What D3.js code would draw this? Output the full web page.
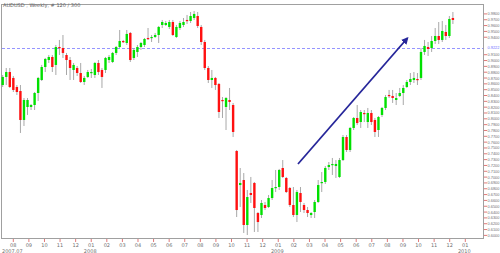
<!DOCTYPE html>
<html>
<head>
<meta charset="utf-8">
<script src="https://cdn.jsdelivr.net/npm/d3@7"></script>
<style>
  body { margin: 0; background: #fff; }
  svg { display: block; }
  text { font-family: "DejaVu Sans", sans-serif; }
  .price-label { font-family: "Liberation Sans", Arial, sans-serif; }
</style>
</head>
<body>
<svg id="chart" width="500" height="253"></svg>
<script>
// 图表数据
const title = 'AUDUSD , Weekly, # 120 / 300';

const open = [
  0.8580, 0.8718, 0.8803, 0.8701, 0.8546, 0.8477, 0.7980, 0.8203, 0.8203, 0.8237,
  0.8443, 0.8666, 0.8889, 0.9009, 0.9061, 0.8924, 0.9232, 0.9215, 0.9095, 0.9009,
  0.8838, 0.8872, 0.8786, 0.8632, 0.8718, 0.8786, 0.8752, 0.8958, 0.8838, 0.8838,
  0.9009, 0.8975, 0.9130, 0.9232, 0.9335, 0.9301, 0.9473, 0.9044, 0.9147, 0.9232,
  0.9267, 0.9387, 0.9387, 0.9404, 0.9438, 0.9610, 0.9610, 0.9576, 0.9661, 0.9404,
  0.9558, 0.9610, 0.9696, 0.9679, 0.9730, 0.9764, 0.9576, 0.9318, 0.8872, 0.8666,
  0.8701, 0.8598, 0.8323, 0.8203, 0.8323, 0.8237, 0.7448, 0.6864, 0.6950, 0.6178,
  0.6727, 0.6899, 0.6384, 0.6350, 0.6521, 0.6487, 0.6641, 0.6813, 0.6830, 0.7156,
  0.6985, 0.6813, 0.6521, 0.6350, 0.6727, 0.6521, 0.6435, 0.6350, 0.6401, 0.6573,
  0.6899, 0.6916, 0.7173, 0.7208, 0.7190, 0.7002, 0.7293, 0.7688, 0.7465, 0.7843,
  0.8014, 0.7945, 0.8100, 0.7945, 0.8100, 0.7980, 0.7808, 0.8066, 0.8186, 0.8409,
  0.8392, 0.8323, 0.8392, 0.8443, 0.8546, 0.8632, 0.8666, 0.8683, 0.8701, 0.9147,
  0.9232, 0.9215, 0.9335, 0.9421, 0.9353, 0.9490, 0.9421, 0.9730
];
const high = [
  0.8752, 0.8872, 0.8872, 0.8735, 0.8580, 0.8580, 0.8357, 0.8357, 0.8254, 0.8460,
  0.8718, 0.8924, 0.9044, 0.9095, 0.9095, 0.9267, 0.9353, 0.9438, 0.9130, 0.9061,
  0.8958, 0.8906, 0.8958, 0.8735, 0.8838, 0.8855, 0.8975, 0.9009, 0.8872, 0.9061,
  0.9095, 0.9147, 0.9250, 0.9524, 0.9353, 0.9524, 0.9490, 0.9215, 0.9267, 0.9318,
  0.9387, 0.9558, 0.9438, 0.9473, 0.9593, 0.9696, 0.9679, 0.9696, 0.9696, 0.9610,
  0.9679, 0.9730, 0.9782, 0.9833, 0.9850, 0.9833, 0.9610, 0.9353, 0.8906, 0.8838,
  0.8718, 0.8615, 0.8374, 0.8374, 0.8529, 0.8272, 0.7465, 0.7156, 0.7070, 0.6779,
  0.7002, 0.6916, 0.6401, 0.6607, 0.6573, 0.6693, 0.6950, 0.7122, 0.7140, 0.7293,
  0.7002, 0.6830, 0.6830, 0.6779, 0.6830, 0.6556, 0.6487, 0.6401, 0.6607, 0.6950,
  0.7087, 0.7190, 0.7259, 0.7328, 0.7293, 0.7328, 0.7722, 0.7722, 0.7860, 0.8031,
  0.8237, 0.8151, 0.8151, 0.8186, 0.8151, 0.8014, 0.8048, 0.8203, 0.8409, 0.8495,
  0.8495, 0.8443, 0.8529, 0.8580, 0.8666, 0.8786, 0.8803, 0.8786, 0.9215, 0.9353,
  0.9318, 0.9421, 0.9558, 0.9661, 0.9679, 0.9610, 0.9764, 0.9833
];
const low = [
  0.8546, 0.8580, 0.8529, 0.8460, 0.8409, 0.7757, 0.7877, 0.8066, 0.8151, 0.8151,
  0.8306, 0.8649, 0.8803, 0.8958, 0.8803, 0.8752, 0.9095, 0.9044, 0.8752, 0.8666,
  0.8666, 0.8735, 0.8615, 0.8580, 0.8701, 0.8701, 0.8701, 0.8752, 0.8529, 0.8786,
  0.8958, 0.8958, 0.9095, 0.9215, 0.9301, 0.9267, 0.8975, 0.9009, 0.9061, 0.9181,
  0.9232, 0.9353, 0.9318, 0.9387, 0.9301, 0.9558, 0.9593, 0.9541, 0.9421, 0.9387,
  0.9524, 0.9576, 0.9627, 0.9644, 0.9696, 0.9558, 0.9267, 0.8838, 0.8615, 0.8529,
  0.8495, 0.8014, 0.8014, 0.7808, 0.8151, 0.7688, 0.6315, 0.6487, 0.6041, 0.6006,
  0.6556, 0.6058, 0.6058, 0.6298, 0.6435, 0.6470, 0.6607, 0.6744, 0.6779, 0.6985,
  0.6727, 0.6487, 0.6315, 0.6229, 0.6401, 0.6384, 0.6315, 0.6298, 0.6298, 0.6556,
  0.6744, 0.6882, 0.7122, 0.7036, 0.6985, 0.6985, 0.7276, 0.7431, 0.7431, 0.7808,
  0.7894, 0.7843, 0.7945, 0.7843, 0.7894, 0.7688, 0.7688, 0.8031, 0.8151, 0.8357,
  0.8272, 0.8237, 0.8374, 0.8237, 0.8529, 0.8580, 0.8615, 0.8580, 0.8666, 0.9095,
  0.9078, 0.9147, 0.9284, 0.9284, 0.9318, 0.9353, 0.9387, 0.9627
];
const close = [
  0.8718, 0.8803, 0.8546, 0.8495, 0.8460, 0.7980, 0.8323, 0.8323, 0.8237, 0.8443,
  0.8701, 0.8889, 0.9027, 0.9061, 0.8889, 0.9232, 0.9215, 0.9130, 0.9009, 0.8872,
  0.8924, 0.8786, 0.8632, 0.8701, 0.8803, 0.8803, 0.8958, 0.8803, 0.8718, 0.9044,
  0.9061, 0.9130, 0.9232, 0.9335, 0.9318, 0.9456, 0.9009, 0.9181, 0.9232, 0.9301,
  0.9370, 0.9370, 0.9404, 0.9438, 0.9576, 0.9661, 0.9644, 0.9661, 0.9438, 0.9576,
  0.9644, 0.9661, 0.9679, 0.9764, 0.9799, 0.9593, 0.9318, 0.8872, 0.8666, 0.8701,
  0.8580, 0.8117, 0.8306, 0.8357, 0.8289, 0.7774, 0.6435, 0.6899, 0.6178, 0.6658,
  0.6693, 0.6470, 0.6229, 0.6556, 0.6470, 0.6641, 0.6813, 0.6830, 0.7122, 0.7002,
  0.6744, 0.6521, 0.6350, 0.6744, 0.6573, 0.6435, 0.6384, 0.6384, 0.6573, 0.6864,
  0.6916, 0.7156, 0.7208, 0.7225, 0.7225, 0.7293, 0.7688, 0.7465, 0.7843, 0.8014,
  0.7928, 0.8117, 0.8083, 0.8100, 0.7945, 0.7774, 0.8031, 0.8186, 0.8374, 0.8392,
  0.8357, 0.8357, 0.8443, 0.8529, 0.8632, 0.8683, 0.8701, 0.8666, 0.9147, 0.9250,
  0.9198, 0.9335, 0.9421, 0.9353, 0.9507, 0.9421, 0.9713, 0.9696
];

// 价格刻度
const priceTicks = [
  0.98, 0.97, 0.96, 0.95, 0.94, 0.93, 0.92, 0.91, 0.90, 0.89,
  0.88, 0.87, 0.86, 0.85, 0.84, 0.83, 0.82, 0.81, 0.80, 0.79,
  0.78, 0.77, 0.76, 0.75, 0.74, 0.73, 0.72, 0.71, 0.70, 0.69,
  0.68, 0.67, 0.66, 0.65, 0.64, 0.63, 0.62, 0.61, 0.60
];

// 月份和年份标签
const monthLabels = [
  '08', '09', '10', '11', '12',
  '01', '02', '03', '04', '05', '06', '07', '08', '09', '10', '11', '12',
  '01', '02', '03', '04', '05', '06', '07', '08', '09', '10', '11', '12',
  '01'
];
const yearLabels = [
  '2007.07', '', '', '', '',
  '2008', '', '', '', '', '', '', '', '', '', '', '',
  '2009', '', '', '', '', '', '', '', '', '', '', '',
  '2010'
];

// 水平线和趋势箭头
const levelPrice = 0.9222;
const trendArrow = [
  { bar: 83.3, price: 0.7225 },
  { bar: 114.2, price: 0.9387 }
];

const svg = d3.select('#chart');
const W = 500, H = 253;
const frame = { left: 1, top: 4, right: 483, bottom: 238 };

const bars = open.map((o, i) => ({ i, o, h: high[i], l: low[i], c: close[i] }));

const x = d3.scaleLinear()
  .domain([0, bars.length - 1])
  .range([2.7, 452.9]);

const y = d3.scaleLinear()
  .domain([0.5955, 0.9970])
  .range([frame.bottom, frame.top]);

const xMonth = d3.scalePoint()
  .domain(monthLabels.map((d, i) => i))
  .range([13.3, 465.3]);

svg.append('rect')
  .attr('width', W).attr('height', H)
  .attr('fill', '#fff');

// 图表边框
svg.append('rect')
  .attr('x', frame.left + 0.5)
  .attr('y', frame.top + 0.5)
  .attr('width', frame.right - frame.left)
  .attr('height', frame.bottom - frame.top)
  .attr('fill', 'none')
  .attr('stroke', '#a0a0a0')
  .attr('stroke-width', 1);

const plot = svg.append('g');

// 水平虚线
plot.append('line')
  .attr('x1', frame.left + 1)
  .attr('x2', frame.right)
  .attr('y1', Math.round(y(levelPrice)) + 0.5)
  .attr('y2', Math.round(y(levelPrice)) + 0.5)
  .attr('stroke', '#7a7aff')
  .attr('stroke-width', 0.8)
  .attr('stroke-dasharray', '3,2');

// 蜡烛图
const candle = plot.selectAll('g.candle')
  .data(bars)
  .enter().append('g')
  .attr('class', 'candle');

candle.append('line')
  .attr('x1', d => x(d.i))
  .attr('x2', d => x(d.i))
  .attr('y1', d => y(d.h))
  .attr('y2', d => y(d.l))
  .attr('stroke', '#a8a8a8')
  .attr('stroke-width', 1);

candle.append('rect')
  .attr('x', d => x(d.i) - 1.2)
  .attr('width', 2.4)
  .attr('y', d => y(Math.max(d.o, d.c)))
  .attr('height', d => Math.max(1.2, Math.abs(y(d.o) - y(d.c))))
  .attr('fill', d => d.c >= d.o ? '#00e000' : '#ff1010');

// 趋势箭头
svg.append('defs').append('marker')
  .attr('id', 'arrowHead')
  .attr('viewBox', '0 0 10 10')
  .attr('refX', 8).attr('refY', 5)
  .attr('markerWidth', 4).attr('markerHeight', 4)
  .attr('orient', 'auto')
  .append('path')
  .attr('d', 'M0,0 L10,5 L0,10 z')
  .attr('fill', '#26269a');

plot.append('line')
  .attr('x1', x(trendArrow[0].bar))
  .attr('y1', y(trendArrow[0].price))
  .attr('x2', x(trendArrow[1].bar))
  .attr('y2', y(trendArrow[1].price))
  .attr('stroke', '#26269a')
  .attr('stroke-width', 1.8)
  .attr('marker-end', 'url(#arrowHead)');

// 右侧价格轴
const levelY = y(levelPrice);
const yAxis = svg.append('g');
const shown = priceTicks.filter(p => Math.abs(y(p) - levelY) > 5);

yAxis.selectAll('line')
  .data(shown)
  .enter().append('line')
  .attr('x1', frame.right + 1).attr('x2', frame.right + 4)
  .attr('y1', d => y(d)).attr('y2', d => y(d))
  .attr('stroke', '#e07878');

yAxis.selectAll('text')
  .data(shown)
  .enter().append('text')
  .attr('class', 'price-label')
  .attr('x', frame.right + 4.5)
  .attr('y', d => y(d) + 1.5)
  .attr('font-size', 3.9)
  .attr('fill', '#707070')
  .text(d => d3.format('.4f')(d));

yAxis.append('text')
  .attr('class', 'price-label')
  .attr('x', frame.right + 4.5)
  .attr('y', levelY + 1.5)
  .attr('font-size', 3.9)
  .attr('fill', '#6a6aff')
  .text(d3.format('.4f')(levelPrice));

// 底部时间轴
const xAxis = svg.append('g');

xAxis.selectAll('line')
  .data(monthLabels)
  .enter().append('line')
  .attr('x1', (d, i) => xMonth(i)).attr('x2', (d, i) => xMonth(i))
  .attr('y1', frame.bottom + 1).attr('y2', frame.bottom + 4)
  .attr('stroke', '#e07878');

xAxis.selectAll('text.month')
  .data(monthLabels)
  .enter().append('text')
  .attr('class', 'month')
  .attr('x', (d, i) => xMonth(i))
  .attr('y', frame.bottom + 9)
  .attr('text-anchor', 'middle')
  .attr('font-size', 5)
  .attr('fill', '#707070')
  .text(d => d);

xAxis.selectAll('text.year')
  .data(yearLabels)
  .enter().append('text')
  .attr('class', 'year')
  .attr('x', (d, i) => xMonth(i) - 1)
  .attr('y', frame.bottom + 15)
  .attr('text-anchor', 'middle')
  .attr('font-size', 5)
  .attr('fill', '#707070')
  .text(d => d);

// 标题
svg.append('text')
  .attr('x', 3)
  .attr('y', 7)
  .attr('font-size', 5)
  .attr('fill', '#606060')
  .text(title);
</script>
</body>
</html>
